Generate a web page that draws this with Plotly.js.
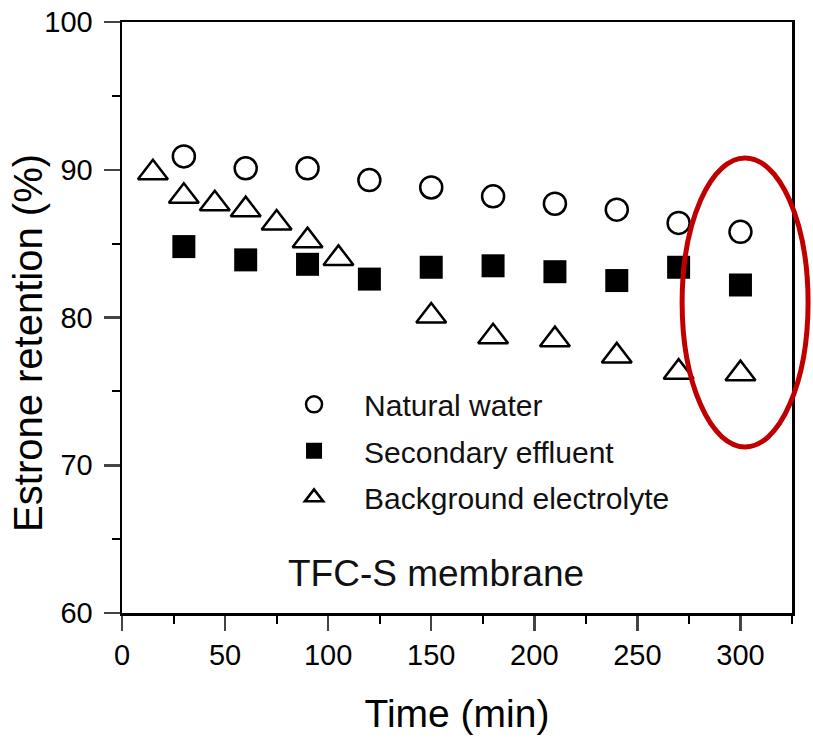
<!DOCTYPE html>
<html>
<head>
<meta charset="utf-8">
<script src="https://cdn.plot.ly/plotly-3.0.1.min.js"></script>
<style>html,body{margin:0;padding:0;background:#fff;}#chart{width:813px;height:741px;}</style>
</head>
<body>
<div id="chart"></div>
<script>
// Data
const timeNatural = [30, 60, 90, 120, 150, 180, 210, 240, 270, 300];
const natural = [90.9, 90.1, 90.1, 89.3, 88.8, 88.2, 87.7, 87.3, 86.4, 85.8];

const timeSecondary = [30, 60, 90, 120, 150, 180, 210, 240, 270, 300];
const secondary = [84.8, 83.9, 83.6, 82.6, 83.4, 83.5, 83.1, 82.5, 83.4, 82.2];

const timeBackground = [15, 30, 45, 60, 75, 90, 105, 150, 180, 210, 240, 270, 300];
const background = [89.8, 88.2, 87.7, 87.3, 86.4, 85.2, 84.0, 80.1, 78.7, 78.5, 77.4, 76.3, 76.2];

const seriesNames = ["Natural water", "Secondary effluent", "Background electrolyte"];
const xTickVals = [0, 50, 100, 150, 200, 250, 300];
const yTickVals = [60, 70, 80, 90, 100];

const font = "Liberation Sans, Arial, sans-serif";

const traces = [
  {x: timeNatural, y: natural, name: seriesNames[0], mode: "markers", type: "scatter", legendgroup: "a",
   marker: {symbol: "circle-open", size: 22, color: "#000", line: {width: 2.5, color: "#000"}}},
  {x: timeSecondary, y: secondary, name: seriesNames[1], mode: "markers", type: "scatter", legendgroup: "b",
   marker: {symbol: "square", size: 23, color: "#000", line: {width: 0}}},
  {x: timeBackground, y: background, name: seriesNames[2], mode: "markers", type: "scatter", legendgroup: "c",
   marker: {symbol: "triangle-up-open", size: 26, color: "#000", line: {width: 2.5, color: "#000"}}}
];

const layout = {
  width: 813, height: 741,
  margin: {l: 122, r: 21, t: 22, b: 128},
  paper_bgcolor: "#fff", plot_bgcolor: "#fff",
  font: {family: font, color: "#000"},
  showlegend: true,
  legend: {x: 0.212, y: 0.397, xanchor: "left", yanchor: "top", bgcolor: "rgba(0,0,0,0)", itemwidth: 90,
           font: {size: 30, family: font, color: "#111"}, tracegroupgap: 4.5},
  xaxis: {range: [0, 325], tickvals: xTickVals, ticks: "outside", ticklen: 15, tickwidth: 2.5,
          minor: {dtick: 25, tick0: 0, ticks: "outside", ticklen: 8, tickwidth: 2, tickcolor: "#000"},
          showline: true, linewidth: 2.5, linecolor: "#000", mirror: true, showgrid: false, zeroline: false,
          tickfont: {size: 29, family: font}, title: {text: "Time (min)", font: {size: 39, family: font}, standoff: 30}},
  yaxis: {range: [60, 100], tickvals: yTickVals, ticks: "outside", ticklen: 16, tickwidth: 2.5, ticklabelstandoff: 5,
          minor: {dtick: 5, tick0: 60, ticks: "outside", ticklen: 8, tickwidth: 2, tickcolor: "#000"},
          showline: true, linewidth: 2.5, linecolor: "#000", mirror: true, showgrid: false, zeroline: false,
          tickfont: {size: 29, family: font}},
  annotations: [
    {text: "Estrone retention (%)", xref: "paper", yref: "paper", x: 0, y: 0.457, xshift: -94, textangle: -90,
     xanchor: "center", yanchor: "middle", showarrow: false, font: {size: 40, family: font, color: "#000"}},
    {text: "TFC-S membrane", xref: "paper", yref: "paper", x: 0.469, y: 0.066, xanchor: "center", yanchor: "middle",
     showarrow: false, font: {size: 37, family: font, color: "#111"}}
  ],
  shapes: [
    {type: "circle", xref: "paper", yref: "paper", x0: 0.836, x1: 1.024, y0: 0.281, y1: 0.770,
     line: {color: "#c00000", width: 5}}
  ]
};

Plotly.newPlot("chart", traces, layout, {displayModeBar: false, staticPlot: true});
</script>
</body>
</html>
